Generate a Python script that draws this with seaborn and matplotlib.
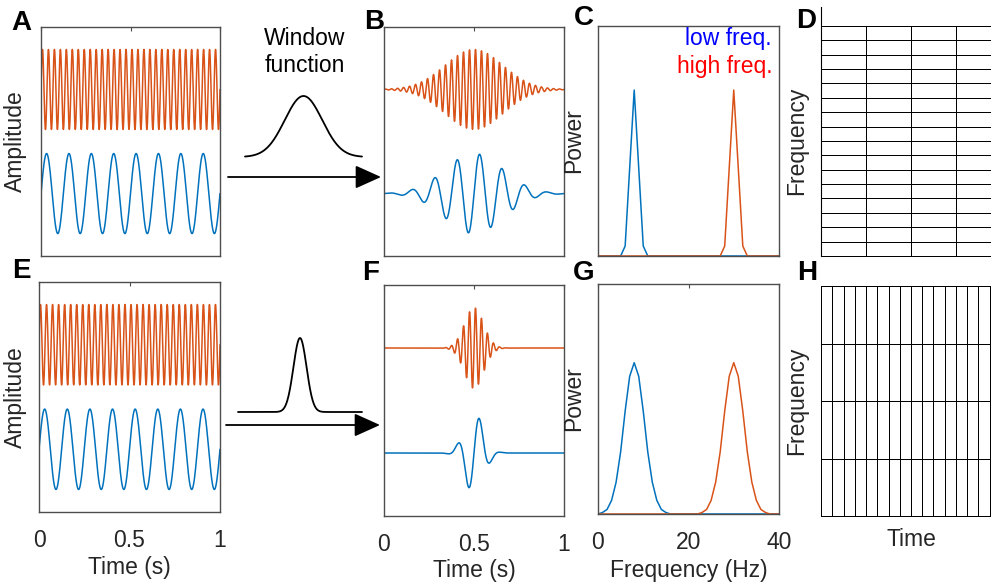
import numpy as np
import matplotlib
matplotlib.use("Agg")
import matplotlib.pyplot as plt
from matplotlib.colors import ListedColormap
import seaborn as sns

# --- DATOS ---
tiempo_s = np.linspace(0, 1, 1001)
frecuencias_senal_hz = [8, 30]          # baja (azul), alta (naranja)
desplazamientos = [-1.3, 1.3]           # posicion vertical de cada senal
sigmas_ventana_s = [0.16, 0.053]        # ventana ancha (fila 1), estrecha (fila 2)
centro_ventana_s = 0.5

frecuencia_hz = list(range(0, 41))
# espectro con ventana ancha (C)
potencia_baja_ancha = [0, 0, 0, 0, 0, 0, 0.06, 0.53, 1.0, 0.53, 0.06, 0, 0, 0, 0, 0, 0, 0, 0, 0,
                       0, 0, 0, 0, 0, 0, 0, 0, 0, 0, 0, 0, 0, 0, 0, 0, 0, 0, 0, 0, 0]
potencia_alta_ancha = [0, 0, 0, 0, 0, 0, 0, 0, 0, 0, 0, 0, 0, 0, 0, 0, 0, 0, 0, 0,
                       0, 0, 0, 0, 0, 0, 0, 0, 0.06, 0.53, 1.0, 0.53, 0.06, 0, 0, 0, 0, 0, 0, 0, 0]
# espectro con ventana estrecha (G)
potencia_baja_estrecha = [0, 0.01, 0.03, 0.09, 0.21, 0.41, 0.68, 0.91, 1.0, 0.91, 0.68, 0.41, 0.21,
                          0.09, 0.03, 0.01, 0, 0, 0, 0, 0, 0, 0, 0, 0, 0, 0, 0, 0, 0, 0, 0, 0, 0,
                          0, 0, 0, 0, 0, 0, 0]
potencia_alta_estrecha = [0, 0, 0, 0, 0, 0, 0, 0, 0, 0, 0, 0, 0, 0, 0, 0, 0, 0, 0, 0, 0, 0, 0,
                          0.01, 0.03, 0.09, 0.21, 0.41, 0.68, 0.91, 1.0, 0.91, 0.68, 0.41, 0.21,
                          0.09, 0.03, 0.01, 0, 0, 0]

# rejillas tiempo-frecuencia: (filas de frecuencia, columnas de tiempo)
rejilla_d = (16, 4)
rejilla_h = (4, 16)

# --- ESTILO ---
AZUL = "#0072BD"
NARANJA = "#D95319"
GRIS = "#4d4d4d"
TEXTO = "#262626"
W, H = 991, 582
TAM = 16.5

sns.set_style("white")
plt.rcParams["font.family"] = ["Liberation Sans", "DejaVu Sans"]
plt.rcParams["font.size"] = TAM


def caja(l, t, r, b):
    # pixeles -> fraccion de figura
    return [l / W, 1 - b / H, (r - l) / W, (b - t) / H]


def estilo_matlab(ax, xlim, ylim, xticks, etiquetas=None):
    ax.set_xlim(xlim)
    ax.set_ylim(ylim)
    ax.set_xticks(xticks)
    ax.set_xticklabels(etiquetas if etiquetas else [])
    ax.set_yticks([])
    ax.tick_params(axis="x", direction="in", length=3, width=0.8, color=GRIS,
                   top=True, pad=12, labelsize=TAM, labelcolor=TEXTO)
    for s in ax.spines.values():
        s.set_visible(True)
        s.set_color(GRIS)
        s.set_linewidth(1.0)
    ax.set_xlabel("")
    ax.set_ylabel("")


def dibujar_senales(ax, sigma=None):
    for f, off, col in zip(frecuencias_senal_hz, desplazamientos, [AZUL, NARANJA]):
        y = np.sin(2 * np.pi * f * tiempo_s)
        if sigma is not None:
            y = y * np.exp(-(tiempo_s - centro_ventana_s) ** 2 / (2 * sigma ** 2))
        sns.lineplot(x=tiempo_s, y=y + off, ax=ax, color=col, linewidth=1.1)


def rejilla(ax, forma):
    sns.heatmap(np.zeros(forma), ax=ax, cmap=ListedColormap(["white"]), vmin=0, vmax=1,
                cbar=False, linewidths=0.7, linecolor="black",
                xticklabels=False, yticklabels=False)
    ax.collections[0].set_clip_on(False)


fig = plt.figure(figsize=(W / 100, H / 100), dpi=100)

# --- A / E: senales originales ---
ax_a = fig.add_axes(caja(41, 27, 220, 256))
dibujar_senales(ax_a)
estilo_matlab(ax_a, (0, 1), (-2.86, 2.86), [0, 0.5, 1])
ax_a.set_ylabel("Amplitude", color=TEXTO)
ax_a.yaxis.set_label_coords(-0.078, 0.5)

ax_e = fig.add_axes(caja(39, 282, 220, 512))
dibujar_senales(ax_e)
estilo_matlab(ax_e, (0, 1), (-2.86, 2.86), [0, 0.5, 1], ["0", "0.5", "1"])
ax_e.set_ylabel("Amplitude", color=TEXTO)
ax_e.yaxis.set_label_coords(-0.066, 0.5)
ax_e.set_xlabel("Time (s)", color=TEXTO)
ax_e.xaxis.set_label_coords(0.5, -0.19)

# --- B / F: senales con ventana ---
ax_b = fig.add_axes(caja(384, 27, 564, 256))
dibujar_senales(ax_b, sigmas_ventana_s[0])
estilo_matlab(ax_b, (0, 1), (-2.86, 2.86), [0, 0.5, 1])

ax_f = fig.add_axes(caja(384, 285, 564, 516))
dibujar_senales(ax_f, sigmas_ventana_s[1])
estilo_matlab(ax_f, (0, 1), (-2.86, 2.86), [0, 0.5, 1], ["0", "0.5", "1"])
ax_f.set_xlabel("Time (s)", color=TEXTO)
ax_f.xaxis.set_label_coords(0.5, -0.185)

# --- C / G: espectros ---
ax_c = fig.add_axes(caja(598, 26, 779, 256))
sns.lineplot(x=frecuencia_hz, y=potencia_baja_ancha, ax=ax_c, color=AZUL, linewidth=1.1)
sns.lineplot(x=frecuencia_hz, y=potencia_alta_ancha, ax=ax_c, color=NARANJA, linewidth=1.1)
estilo_matlab(ax_c, (0, 40), (0, 1.386), [])
ax_c.set_ylabel("Power", color=TEXTO)
ax_c.yaxis.set_label_coords(-0.072, 0.5)

ax_g = fig.add_axes(caja(598, 284, 779, 514))
sns.lineplot(x=frecuencia_hz, y=potencia_baja_estrecha, ax=ax_g, color=AZUL, linewidth=1.1)
sns.lineplot(x=frecuencia_hz, y=potencia_alta_estrecha, ax=ax_g, color=NARANJA, linewidth=1.1)
estilo_matlab(ax_g, (0, 40), (0, 1.52), [0, 20, 40], ["0", "20", "40"])
ax_g.set_ylabel("Power", color=TEXTO)
ax_g.yaxis.set_label_coords(-0.072, 0.5)
ax_g.set_xlabel("Frequency (Hz)", color=TEXTO)
ax_g.xaxis.set_label_coords(0.5, -0.195)

# --- D / H: rejillas tiempo-frecuencia ---
ax_d = fig.add_axes(caja(821, 7, 1001, 256))
rejilla(ax_d, rejilla_d)
ax_d.set_ylim(rejilla_d[0], -1.32)
ax_d.spines["left"].set_visible(True)
ax_d.spines["left"].set_color("black")
ax_d.spines["left"].set_linewidth(0.8)
ax_d.set_ylabel("Frequency", color=TEXTO)
ax_d.yaxis.set_label_coords(-0.072, 0.462)

ax_h = fig.add_axes(caja(821, 286, 1001, 516))
rejilla(ax_h, rejilla_h)
ax_h.set_ylabel("Frequency", color=TEXTO)
ax_h.yaxis.set_label_coords(-0.072, 0.5)
ax_h.set_xlabel("Time", color=TEXTO)
ax_h.xaxis.set_label_coords(0.5, -0.05)

# --- capa superior: ventanas y flechas (en pixeles) ---
ov = fig.add_axes([0, 0, 1, 1])
ov.set_xlim(0, W)
ov.set_ylim(H, 0)
ov.axis("off")
ov.patch.set_alpha(0)

u = np.linspace(0, 1, 300)
for sigma, (x0, x1, base, alto) in zip(sigmas_ventana_s, [(245, 362, 157, 61), (238, 362, 412, 74)]):
    g = np.exp(-(u - centro_ventana_s) ** 2 / (2 * sigma ** 2))
    ov.plot(x0 + u * (x1 - x0), base - alto * g, color="black", linewidth=1.3)

for y, x0, x1 in [(177, 228, 381), (425, 226, 380)]:
    ov.annotate("", xy=(x1, y), xytext=(x0, y),
                arrowprops=dict(arrowstyle="-|>,head_length=0.8,head_width=0.36",
                                color="black", lw=1.3, mutation_scale=20,
                                shrinkA=0, shrinkB=0))

ov.text(305, 52, "Window\nfunction", ha="center", va="center", fontsize=TAM, color="black")
ov.text(772, 39, "low freq.", ha="right", va="center", fontsize=TAM, color="#0000FF")
ov.text(773, 67, "high freq.", ha="right", va="center", fontsize=TAM, color="#FF0000")

# --- letras de panel ---
for letra, x, y in [("A", 21, 23), ("B", 374, 22), ("C", 584, 18), ("D", 806, 21),
                    ("E", 21, 271), ("F", 371, 273), ("G", 584, 273), ("H", 807, 273)]:
    ov.text(x, y, letra, ha="center", va="center", fontsize=20, fontweight="bold", color="black")

fig.savefig("out.png", dpi=100)
